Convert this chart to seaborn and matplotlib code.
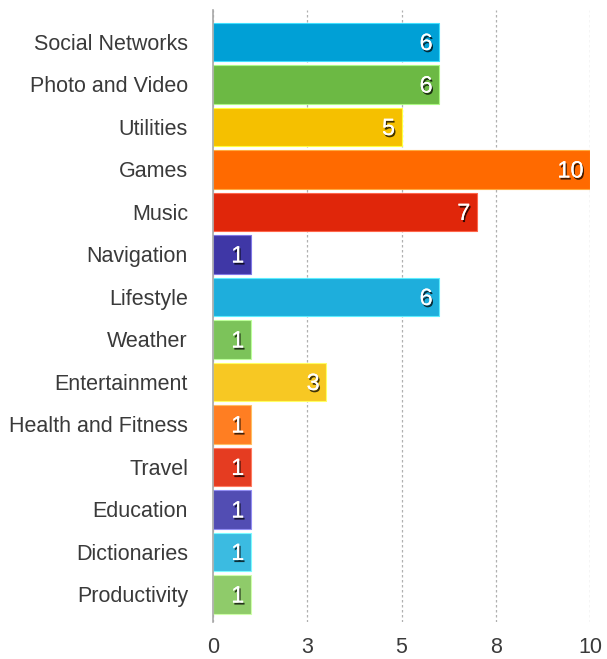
import matplotlib
matplotlib.use("Agg")
import matplotlib.pyplot as plt
import matplotlib.patheffects as pe
import seaborn as sns
import pandas as pd

categories = ["Social Networks", "Photo and Video", "Utilities", "Games", "Music",
              "Navigation", "Lifestyle", "Weather", "Entertainment",
              "Health and Fitness", "Travel", "Education", "Dictionaries",
              "Productivity"]
counts = [6, 6, 5, 10, 7, 1, 6, 1, 3, 1, 1, 1, 1, 1]
bar_colors = ["#00a0d6", "#6cb944", "#f5c000", "#ff6a00", "#e0260a",
              "#3f37a6", "#1eaedc", "#7cc35a", "#f7c823", "#ff7e22",
              "#e53c21", "#524db3", "#3bbbe1", "#8fcb6a"]
tick_values = [0, 2.5, 5, 7.5, 10]
tick_labels = ["0", "3", "5", "8", "10"]

df = pd.DataFrame({"category": categories, "count": counts})

sns.set_theme(style="white")
plt.rcParams["font.family"] = ["Liberation Sans", "DejaVu Sans"]

fig = plt.figure(figsize=(6.07, 6.59), dpi=100)
ax = fig.add_axes([213 / 607, 37 / 659, 377 / 607, 612 / 659])

sns.barplot(data=df, x="count", y="category", hue="category",
            palette=bar_colors, legend=False, width=0.9, ax=ax,
            saturation=1, edgecolor="none", orient="h")

# lighter outline on each bar
for patch in ax.patches:
    fc = patch.get_facecolor()
    light = tuple(min(1, c + 0.25) for c in fc[:3]) + (1,)
    patch.set_edgecolor(light)
    patch.set_linewidth(0.8)

shadow = [pe.withSimplePatchShadow(offset=(1, -1.5), shadow_rgbFace="black", alpha=0.75),
          pe.Normal()]
for i, v in enumerate(counts):
    ax.text(v - 0.17, i + 0.05, str(v), ha="right", va="center",
            color="white", fontsize=17, path_effects=shadow)

ax.set_xlim(0, 10)
ax.set_ylim(13.65, -0.75)
ax.set_xticks(tick_values)
ax.set_xticklabels(tick_labels)
ax.set_xlabel("")
ax.set_ylabel("")

ax.grid(axis="x", linestyle=(0, (2, 2)), color="#b0b0b0", linewidth=0.9)
ax.set_axisbelow(True)
for side in ["top", "right", "bottom"]:
    ax.spines[side].set_visible(False)
ax.spines["left"].set_color("#a8a8a8")
ax.spines["left"].set_linewidth(1.2)

ax.tick_params(axis="y", length=0, pad=18, labelsize=15.5, labelcolor="#3a3a3a")
ax.tick_params(axis="x", length=0, pad=11, labelsize=15.5, labelcolor="#3a3a3a")

fig.savefig("out.png", dpi=100, facecolor="white")
